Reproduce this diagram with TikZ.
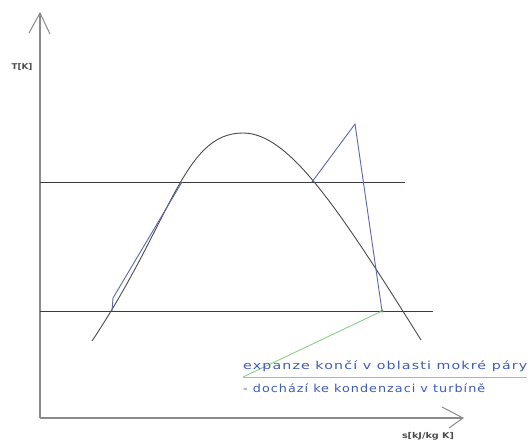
\documentclass[tikz,border=0pt]{standalone}
\usepackage{fontspec}
\setmainfont{DejaVu Sans}
\newfontfamily\notefont[LetterSpace=8]{DejaVu Sans}
\definecolor{axisgray}{HTML}{8A8A8A}
\definecolor{linedark}{HTML}{3A3A48}
\definecolor{domegray}{HTML}{4A4A4A}
\definecolor{cycleblue}{HTML}{5A66B0}
\definecolor{notegreen}{HTML}{8AD08A}
\definecolor{noteblue}{HTML}{3A5AC0}
\newcommand{\widetext}[2]{\scalebox{#1}[1]{#2}}
\newcommand{\fitwidth}[2]{\resizebox{#1}{\height}{#2}}
\tikzset{
  axisline/.style={draw=axisgray, line width=1.6pt},
  isoline/.style={draw=linedark, line width=0.9pt},
  domeline/.style={draw=domegray, line width=0.9pt},
  cycleline/.style={draw=cycleblue, line width=0.9pt},
  greenline/.style={draw=notegreen, line width=0.9pt},
  axislabel/.style={font=\fontsize{8}{9}\selectfont\bfseries, text=black!70, inner sep=0pt},
  notetext/.style={font=\notefont\fontsize{11}{13}\selectfont, text=noteblue, inner sep=0pt, anchor=base west}
}
\begin{document}
\begin{tikzpicture}[x=1pt,y=-1pt]
\useasboundingbox (0,0) rectangle (530,444);
% axes
\coordinate (O) at (40,418);
\coordinate (ytip) at (40,13);
\coordinate (ywl) at (29,33);
\coordinate (ywr) at (50,34);
\coordinate (xtip) at (463,418);
\coordinate (xwu) at (442,407);
\coordinate (xwd) at (449,428);
\draw[axisline] (O) -- (ytip);
\draw[axisline] (O) -- (xtip);
\draw[axisline, line width=1pt] (ywl) -- (ytip) -- (ywr);
\draw[axisline, line width=1pt] (xwu) -- (xtip) -- (xwd);
\node[axislabel] (tlabel) at (22,67) {\widetext{1.1}{T[K]}};
\node[axislabel] (slabel) at (428,436) {\widetext{1.2}{s[kJ/kg K]}};
% isotherm / isobar lines
\coordinate (hl1) at (40,182);
\coordinate (hl2) at (405,182);
\coordinate (ll1) at (40,311);
\coordinate (ll2) at (433,311);
\draw[isoline] (hl1) -- (hl2);
\draw[isoline] (ll1) -- (ll2);
% saturation dome
\coordinate (d0) at (92,341);
\coordinate (dtop) at (243,133);
\coordinate (d1) at (421,340);
\draw[domeline] (d0) .. controls (172,221) and (183,133) .. (dtop)
                     .. controls (288,133) and (336,204) .. (d1);
% cycle
\coordinate (p1) at (112,311);
\coordinate (p2) at (113,298);
\coordinate (p3) at (182,182);
\coordinate (p4) at (312,182);
\coordinate (p5) at (355,124);
\coordinate (p6) at (382,311);
\draw[cycleline] (p1) -- (p2) -- (p3);
\draw[cycleline] (p4) -- (p5) -- (p6);
% note
\coordinate (nl1) at (243,377);
\coordinate (nl2) at (527,377);
\draw[greenline] (p6) -- (nl1);
\draw[greenline] (nl1) -- (nl2);
\fill[notegreen!70!black] (p6) circle (1.6pt);
\node[notetext] (note1) at (243,369) {\fitwidth{284pt}{expanze končí v oblasti mokré páry}};
\node[notetext] (note2) at (243,392) {\fitwidth{242pt}{- dochází ke kondenzaci v turbíně}};
\end{tikzpicture}
\end{document}
